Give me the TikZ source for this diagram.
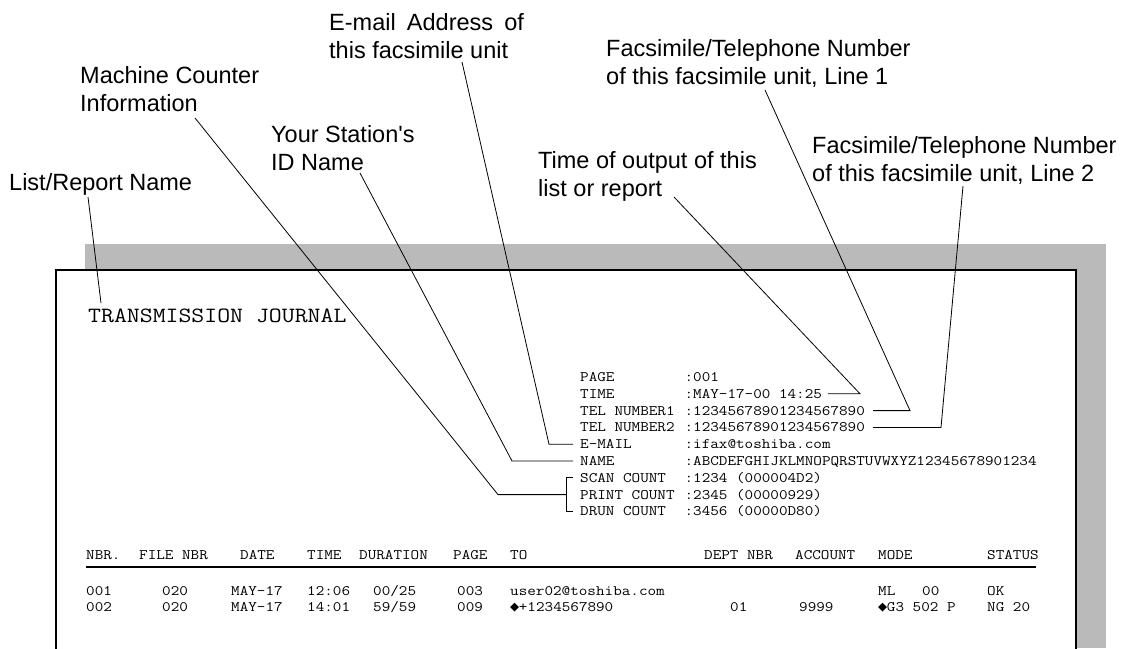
\documentclass[tikz,border=0pt]{standalone}
\usepackage{fontspec}
\setmainfont{Liberation Sans}[Ligatures=TeXOff]
\newfontfamily\cmono{Latin Modern Mono}[FakeStretch=1.15]
\newfontfamily\djmono{DejaVu Sans Mono}
\newcommand{\dia}{\makebox[8.7pt]{\djmono\fontsize{15}{15}\selectfont ◆}}
\tikzset{
  lbl/.style={font=\fontsize{23.5}{28}\selectfont, align=left, inner sep=0pt, anchor=north west},
  mono/.style={font=\cmono\fontsize{14.5}{17}\selectfont, inner sep=0pt, anchor=west, text height=8.9pt, text depth=0pt},
  ttl/.style={font=\cmono\fontsize{21.8}{24}\selectfont, inner sep=0pt, anchor=west, text height=13pt, text depth=0pt},
  lead/.style={line width=0.8pt, black},
  shadowfill/.style={fill=black!27},
}
\begin{document}
\begin{tikzpicture}[x=1pt,y=-1pt]
\useasboundingbox (0,0) rectangle (1142,648);
\clip (0,0) rectangle (1142,648);
% paper
\fill[shadowfill] (85,244) rectangle (1106,648);
\filldraw[fill=white, draw=black, line width=1.2pt] (56,650) -- (56,270) -- (1076,270) -- (1076,650);

% annotation labels
\node[lbl] (listlbl) at (9,173) {List/Report Name};
\node[lbl] (mclbl) at (80,66) {Machine Counter\\Information};
\node[lbl] (emlbl) at (329,13) {E-mail\hspace{0.2em} Address\hspace{0.2em} of\\this facsimile unit};
\node[lbl] (stlbl) at (271,125) {Your Station's\\ID Name};
\node[lbl] (l1lbl) at (606,39) {Facsimile/Telephone Number\\of this facsimile unit, Line 1};
\node[lbl] (tmlbl) at (538,151) {Time of output of this\\list or report};
\node[lbl] (l2lbl) at (812,136) {Facsimile/Telephone Number\\of this facsimile unit, Line 2};

% title
\node[ttl] (title) at (88,316) {TRANSMISSION JOURNAL};

% header block
\foreach \nm/\yy/\lb/\vl in {
  hpage/377/PAGE/:001,
  htime/393.8/TIME/:MAY-17-00 14:25,
  htelA/410.6/TEL NUMBER1/:12345678901234567890,
  htelB/427.4/TEL NUMBER2/:12345678901234567890,
  hmail/444.2/E-MAIL/:ifax@toshiba.com,
  hname/461/NAME/:ABCDEFGHIJKLMNOPQRSTUVWXYZ12345678901234,
  hscan/477.8/SCAN COUNT/:1234 (000004D2),
  hprint/494.6/PRINT COUNT/:2345 (00000929),
  hdrun/511.4/DRUN COUNT/:3456 (00000D80)}{
  \node[mono] (\nm) at (580,\yy) {\lb};
  \node[mono] (\nm v) at (684.4,\yy) {\vl};
}

% table header
\foreach \nm/\xx/\tx in {tnbr/86/NBR., tfile/139/FILE NBR, tdate/240/DATE, ttime/307/TIME,
  tdur/359/DURATION, tpage/453/PAGE, tto/510/TO, tdept/704/DEPT NBR, tacc/795/ACCOUNT,
  tmode/878/MODE, tstat/987/STATUS}{
  \node[mono] (\nm) at (\xx,555) {\tx};
}
\draw[line width=1.6pt] (86,567) coordinate (rulel) -- (1036,567) coordinate (ruler);

% row 1
\foreach \nm/\xx/\tx in {ra1/86/001, ra2/162/020, ra3/231/MAY-17, ra4/307/12:06, ra5/373/{00/25},
  ra6/457/003, ra7/510/user02@toshiba.com, ra8/878/ML, ra9/922/00, ra10/987/OK}{
  \node[mono] (\nm) at (\xx,591) {\tx};
}
% row 2
\foreach \nm/\xx/\tx in {rb1/86/002, rb2/162/020, rb3/231/MAY-17, rb4/307/14:01, rb5/373/{59/59},
  rb6/457/009, rb8/730/01, rb9/799/9999, rb11/987/NG 20}{
  \node[mono] (\nm) at (\xx,607) {\tx};
}
\node[mono] (rb7) at (510,607) {\dia+1234567890};
\node[mono] (rb10) at (878,607) {\dia G3 502 P};

% leader lines
\coordinate (listA) at (88,197);
\coordinate (listB) at (101,303);
\draw[lead] (listA) -- (listB);

\coordinate (mcA) at (195,118);
\coordinate (mcB) at (498,494.6);
\draw[lead] (mcA) -- (mcB) -- ([xshift=-14pt]hprint.west);
\draw[lead] ([xshift=-7pt]hscan.west) -- ([xshift=-14pt]hscan.west) -- ([xshift=-14pt]hdrun.west) -- ([xshift=-7pt]hdrun.west);

\coordinate (stA) at (360,173);
\coordinate (stB) at (512,461);
\draw[lead] (stA) -- (stB) -- ([xshift=-7pt]hname.west);

\coordinate (emA) at (462,62);
\coordinate (emB) at (549,444.2);
\draw[lead] (emA) -- (emB) -- ([xshift=-7pt]hmail.west);

\coordinate (tmA) at (674,197);
\coordinate (tmB) at (860,393.8);
\draw[lead] (tmA) -- (tmB) -- ([xshift=6pt]htimev.east);

\coordinate (l1A) at (765,90);
\coordinate (l1B) at (910,410.6);
\draw[lead] (l1A) -- (l1B) -- ([xshift=8pt]htelAv.east);

\coordinate (l2A) at (963,186);
\coordinate (l2B) at (941,427.4);
\draw[lead] (l2A) -- (l2B) -- ([xshift=8pt]htelBv.east);
\end{tikzpicture}
\end{document}
